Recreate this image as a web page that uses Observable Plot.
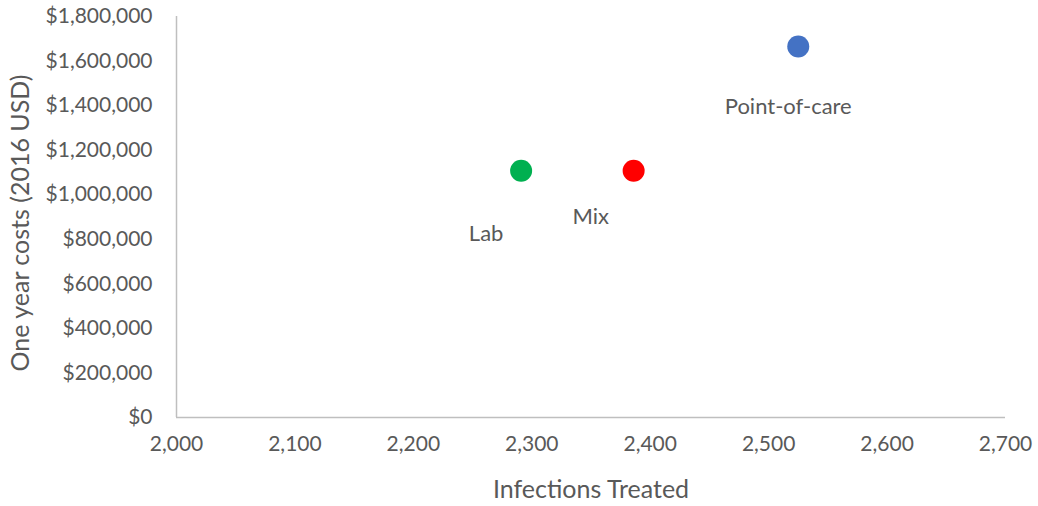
<!DOCTYPE html>
<html>
<head>
<meta charset="utf-8">
<script src="https://cdn.jsdelivr.net/npm/d3@7"></script>
<script src="https://cdn.jsdelivr.net/npm/@observablehq/plot@0.6"></script>
<style>
  html, body { margin: 0; padding: 0; background: #fff; }
  #chart svg { display: block; }
</style>
</head>
<body>
<div id="chart"></div>
<script>
const strategies = ["Point-of-care", "Mix", "Lab"];
const infectionsTreated = [2525, 2386, 2291];
const oneYearCosts = [1665000, 1108000, 1108000];
const colors = ["#4472C4", "#FF0000", "#00B050"];
const xTicks = [2000, 2100, 2200, 2300, 2400, 2500, 2600, 2700];
const yTicks = [0, 200000, 400000, 600000, 800000, 1000000, 1200000, 1400000, 1600000, 1800000];

const data = strategies.map((s, i) => ({
  strategy: s, x: infectionsTreated[i], y: oneYearCosts[i], color: colors[i]
}));

const labelOffsets = {
  "Point-of-care": [-10, 67],
  "Mix": [-43, 53],
  "Lab": [-35, 70]
};

const font = "Lato, 'Open Sans', sans-serif";
const textColor = "#595959";
const dollar = d => "$" + d3.format(",")(d);

const chart = Plot.plot({
  width: 1038,
  height: 506,
  marginLeft: 176,
  marginRight: 33,
  marginTop: 16,
  marginBottom: 89,
  style: { fontFamily: font, color: textColor, background: "#fff" },
  x: { domain: [2000, 2700] },
  y: { domain: [0, 1800000] },
  marks: [
    Plot.axisY({
      ticks: yTicks, tickFormat: dollar, tickSize: 0, tickPadding: 24,
      fontSize: 21, fill: textColor, label: null
    }),
    Plot.axisX({
      ticks: xTicks, tickFormat: d3.format(","), tickSize: 0, tickPadding: 19,
      fontSize: 21, fill: textColor, label: null
    }),
    Plot.ruleX([2000], { stroke: "#bfbfbf", strokeWidth: 1.5 }),
    Plot.ruleY([0], { stroke: "#bfbfbf", strokeWidth: 1.5 }),
    Plot.dot(data, { x: "x", y: "y", r: 11, fill: "color", stroke: null }),
    ...data.map(d => Plot.text([d], {
      x: "x", y: "y", text: "strategy",
      dx: labelOffsets[d.strategy][0], dy: labelOffsets[d.strategy][1],
      fontSize: 22, fill: textColor, textAnchor: "middle", lineAnchor: "bottom"
    })),
    Plot.text(["Infections Treated"], {
      frameAnchor: "bottom", dy: 80, fontSize: 25, fill: textColor,
      textAnchor: "middle", lineAnchor: "bottom"
    }),
    Plot.text(["One year costs (2016 USD)"], {
      frameAnchor: "left", dx: -156, dy: 6, rotate: -90, fontSize: 25, fill: textColor,
      textAnchor: "middle", lineAnchor: "middle"
    })
  ]
});

document.getElementById("chart").appendChild(chart);
</script>
</body>
</html>
